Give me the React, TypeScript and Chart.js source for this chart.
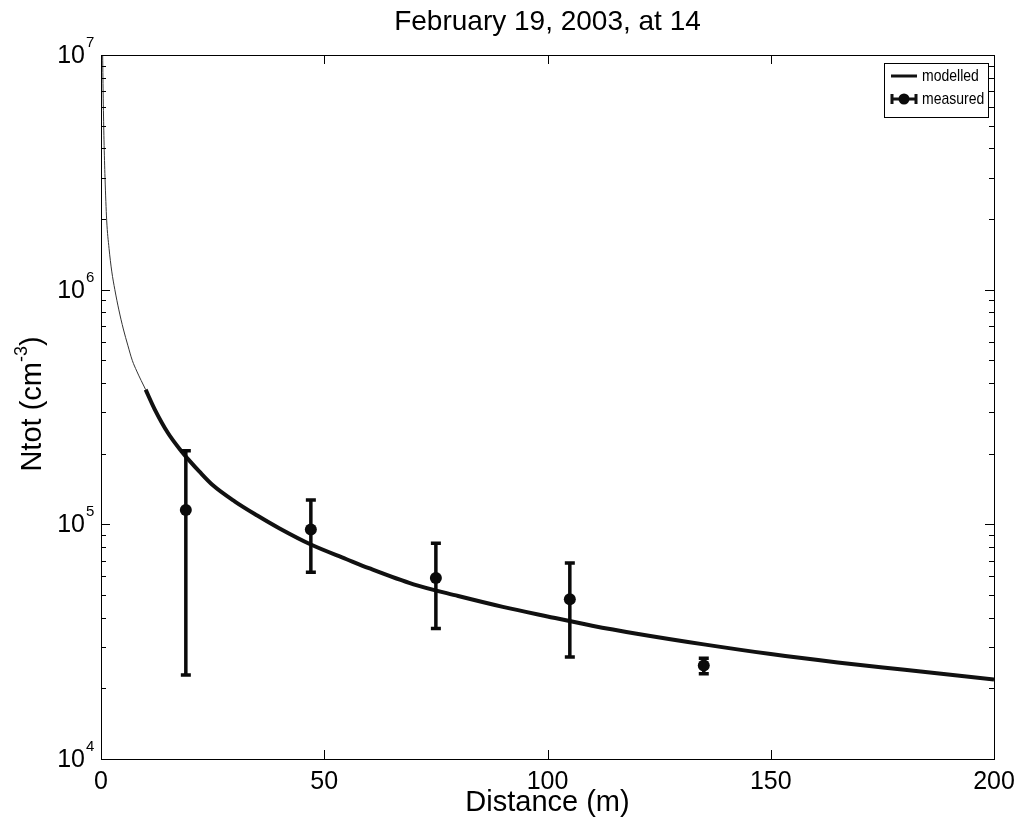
import React, { useEffect, useRef } from "react";
import { Chart, registerables } from "chart.js";

Chart.register(...registerables);

const titleText = "February 19, 2003, at 14";
const xAxisTitle = "Distance (m)";
const xTickValues = [0, 50, 100, 150, 200];
const yDecades = [4, 5, 6, 7];

// modelled curve, thin near-source part
const modelThinX = [0.3, 0.37, 0.5, 0.67, 0.9, 1.27, 1.8, 2.4, 3.1, 4, 5, 6, 7, 8, 9, 10];
const modelThinY = [1.3e7, 1.0e7, 6.5e6, 4.35e6, 3.0e6, 1.98e6, 1.5e6, 1.2e6, 1.0e6, 8.2e5, 6.8e5, 5.8e5, 5.0e5, 4.5e5, 4.1e5, 3.75e5];

// modelled curve, thick part
const modelX = [10, 12, 15, 18, 20, 22, 25, 30, 35, 40, 47, 55, 60, 70, 80, 90, 100, 110, 120, 135, 150, 165, 180, 200];
const modelY = [3.75e5, 3.1e5, 2.45e5, 2.05e5, 1.85e5, 1.68e5, 1.47e5, 1.25e5, 1.09e5, 9.6e4, 8.2e4, 7.1e4, 6.5e4, 5.55e4, 4.95e4, 4.45e4, 4.05e4, 3.7e4, 3.42e4, 3.08e4, 2.8e4, 2.58e4, 2.4e4, 2.18e4];

// measured values with error bars
const measX = [19, 47, 75, 105, 135];
const measY = [1.15e5, 9.5e4, 5.9e4, 4.8e4, 2.5e4];
const measUpper = [2.06e5, 1.27e5, 8.3e4, 6.85e4, 2.69e4];
const measLower = [2.28e4, 6.25e4, 3.6e4, 2.72e4, 2.31e4];

const FONT = "'Liberation Sans', Arial, sans-serif";
const INK = "#000";

function stretchedText(ctx: CanvasRenderingContext2D, text: string, x: number, y: number, sy: number) {
  ctx.save();
  ctx.translate(x, y);
  ctx.scale(1, sy);
  ctx.fillText(text, 0, 0);
  ctx.restore();
}

const decorPlugin = {
  id: "decor",
  afterDatasetsDraw(chart: any) {
    const ctx = chart.ctx as CanvasRenderingContext2D;
    const xs = chart.scales.x;
    const ys = chart.scales.y;
    ctx.save();
    ctx.strokeStyle = "#0a0a0a";
    ctx.lineWidth = 3.5;
    ctx.lineCap = "butt";
    for (let i = 0; i < measX.length; i++) {
      const px = xs.getPixelForValue(measX[i]);
      const pt = ys.getPixelForValue(measUpper[i]);
      const pb = ys.getPixelForValue(measLower[i]);
      ctx.beginPath();
      ctx.moveTo(px, pt);
      ctx.lineTo(px, pb);
      ctx.moveTo(px - 5, pt);
      ctx.lineTo(px + 5, pt);
      ctx.moveTo(px - 5, pb);
      ctx.lineTo(px + 5, pb);
      ctx.stroke();
    }
    ctx.restore();
  },
  afterDraw(chart: any) {
    const ctx = chart.ctx as CanvasRenderingContext2D;
    const a = chart.chartArea;
    const xs = chart.scales.x;
    const ys = chart.scales.y;
    ctx.save();
    ctx.strokeStyle = INK;
    ctx.lineWidth = 1;
    ctx.strokeRect(Math.round(a.left) + 0.5, Math.round(a.top) + 0.5, Math.round(a.right - a.left), Math.round(a.bottom - a.top));
    ctx.beginPath();
    for (const v of xTickValues) {
      const px = Math.round(xs.getPixelForValue(v)) + 0.5;
      ctx.moveTo(px, a.bottom);
      ctx.lineTo(px, a.bottom - 9);
      ctx.moveTo(px, a.top);
      ctx.lineTo(px, a.top + 9);
    }
    for (let d = yDecades[0]; d <= yDecades[yDecades.length - 1]; d++) {
      for (let m = 1; m <= 9; m++) {
        const val = m * Math.pow(10, d);
        if (val > Math.pow(10, yDecades[yDecades.length - 1])) break;
        const py = Math.round(ys.getPixelForValue(val)) + 0.5;
        const len = m === 1 ? 9 : 5;
        ctx.moveTo(a.left, py);
        ctx.lineTo(a.left + len, py);
        ctx.moveTo(a.right, py);
        ctx.lineTo(a.right - len, py);
      }
    }
    ctx.stroke();

    ctx.fillStyle = INK;
    ctx.font = `25px ${FONT}`;
    ctx.textAlign = "center";
    ctx.textBaseline = "top";
    for (const v of xTickValues) {
      ctx.fillText(String(v), xs.getPixelForValue(v), a.bottom + 11);
    }
    for (const d of yDecades) {
      const py = ys.getPixelForValue(Math.pow(10, d));
      ctx.font = `25px ${FONT}`;
      ctx.textAlign = "right";
      ctx.textBaseline = "middle";
      ctx.fillText("10", a.left - 16, py + 1);
      ctx.font = `15px ${FONT}`;
      ctx.textAlign = "left";
      ctx.textBaseline = "alphabetic";
      ctx.fillText(String(d), a.left - 15, py - 8);
    }
    // title
    ctx.font = `28px ${FONT}`;
    ctx.textAlign = "center";
    ctx.textBaseline = "middle";
    ctx.fillText(titleText, (a.left + a.right) / 2, 22);
    // x axis title
    ctx.font = `29px ${FONT}`;
    ctx.fillText(xAxisTitle, (a.left + a.right) / 2, a.bottom + 44);
    // y axis title with superscript
    ctx.save();
    ctx.translate(33, 404);
    ctx.rotate(-Math.PI / 2);
    const big = `29px ${FONT}`;
    const small = `18px ${FONT}`;
    ctx.font = big;
    const p1 = "Ntot (cm";
    const p3 = ")";
    const w1 = ctx.measureText(p1).width;
    const w3 = ctx.measureText(p3).width;
    ctx.font = small;
    const p2 = "-3";
    const w2 = ctx.measureText(p2).width;
    const total = w1 + w2 + w3;
    let cx = -total / 2;
    ctx.textAlign = "left";
    ctx.textBaseline = "middle";
    ctx.font = big;
    ctx.fillText(p1, cx, 0);
    cx += w1;
    ctx.font = small;
    ctx.fillText(p2, cx, -11);
    cx += w2;
    ctx.font = big;
    ctx.fillText(p3, cx, 0);
    ctx.restore();

    // legend
    const lx = 884, ly = 63, lw = 104, lh = 54;
    ctx.fillStyle = "#fff";
    ctx.fillRect(lx, ly, lw, lh);
    ctx.strokeStyle = INK;
    ctx.lineWidth = 1;
    ctx.strokeRect(lx + 0.5, ly + 0.5, lw, lh);
    ctx.strokeStyle = "#111";
    ctx.lineWidth = 3;
    ctx.beginPath();
    ctx.moveTo(891, 76);
    ctx.lineTo(917, 76);
    ctx.stroke();
    ctx.beginPath();
    ctx.moveTo(891, 99);
    ctx.lineTo(917, 99);
    ctx.moveTo(892, 94);
    ctx.lineTo(892, 104);
    ctx.moveTo(916, 94);
    ctx.lineTo(916, 104);
    ctx.stroke();
    ctx.fillStyle = "#0a0a0a";
    ctx.beginPath();
    ctx.arc(904, 99, 5.5, 0, Math.PI * 2);
    ctx.fill();
    ctx.fillStyle = INK;
    ctx.font = `14px ${FONT}`;
    ctx.textAlign = "left";
    ctx.textBaseline = "middle";
    stretchedText(ctx, "modelled", 922, 76, 1.2);
    stretchedText(ctx, "measured", 922, 99, 1.2);
    ctx.restore();
  },
};

export default function App() {
  const ref = useRef<HTMLCanvasElement | null>(null);
  useEffect(() => {
    if (!ref.current) return;
    const chart = new Chart(ref.current, {
      type: "line",
      data: {
        datasets: [
          {
            label: "modelled-near",
            data: modelThinX.map((x, i) => ({ x, y: modelThinY[i] })),
            borderColor: "#333",
            borderWidth: 1,
            pointRadius: 0,
            cubicInterpolationMode: "monotone",
            fill: false,
          },
          {
            label: "modelled",
            data: modelX.map((x, i) => ({ x, y: modelY[i] })),
            borderColor: "#111",
            borderWidth: 4,
            pointRadius: 0,
            cubicInterpolationMode: "monotone",
            fill: false,
          },
          {
            label: "measured",
            data: measX.map((x, i) => ({ x, y: measY[i] })),
            showLine: false,
            pointRadius: 6,
            pointBackgroundColor: "#0a0a0a",
            pointBorderColor: "#0a0a0a",
            pointBorderWidth: 0,
          },
        ],
      },
      options: {
        animation: false,
        responsive: false,
        layout: { padding: { left: 101, right: 24, top: 55, bottom: 68 } },
        scales: {
          x: { type: "linear", min: 0, max: 200, display: false },
          y: { type: "logarithmic", min: 1e4, max: 1e7, display: false },
        },
        plugins: {
          legend: { display: false },
          title: { display: false },
          tooltip: { enabled: false },
        },
      },
      plugins: [decorPlugin],
    });
    return () => chart.destroy();
  }, []);
  return (
    <div style={{ position: "fixed", left: 0, top: 0, width: 1018, height: 827, background: "#fff" }}>
      <canvas ref={ref} width={1018} height={827} style={{ display: "block" }} />
    </div>
  );
}
